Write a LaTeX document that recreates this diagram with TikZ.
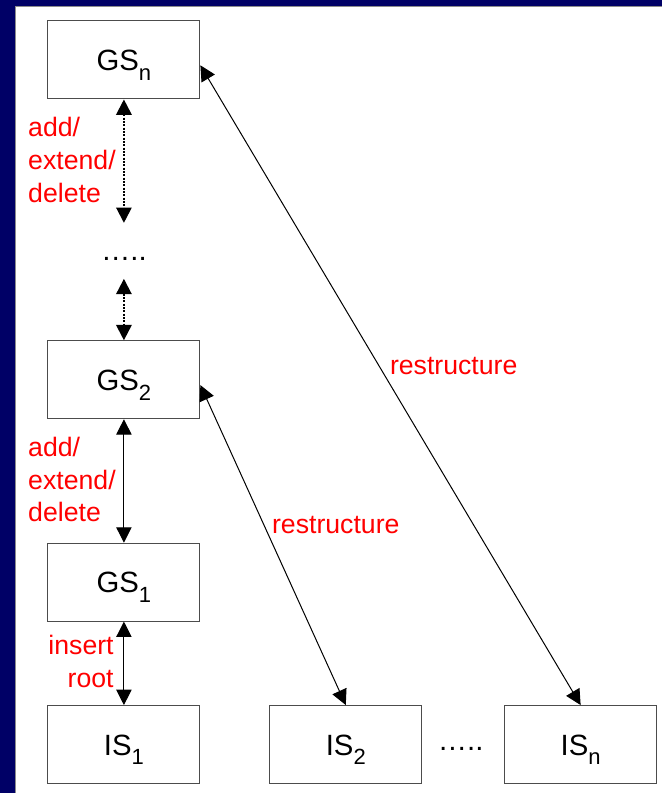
\documentclass[tikz,border=0pt]{standalone}
\usepackage{fontspec}
\setmainfont{Liberation Sans}
\usetikzlibrary{arrows.meta,positioning}

\definecolor{framenavy}{RGB}{0,0,102}
\definecolor{labelred}{RGB}{255,0,0}

% lowered index in the box labels
\newcommand{\lowidx}[1]{\raisebox{-0.33em}{\fontsize{16.5}{16.5}\selectfont #1}}

\begin{document}
\begin{tikzpicture}[
  x=0.75pt, y=-0.75pt,
  >={Triangle[width=11.5pt,length=11.5pt]},
  stage/.style={rectangle, draw=black!70, line width=0.75pt, fill=white, minimum width=114pt, minimum height=58.5pt, text height=16pt, text depth=0pt, font=\fontsize{22}{26}\selectfont},
  ell/.style={anchor=base, inner sep=0pt, font=\fontsize{22}{26}\selectfont},
  note/.style={text=labelred, inner sep=0pt, font=\fontsize{20}{24.5}\selectfont},
  link/.style={<->, line width=0.75pt},
  gap/.style={<->, line width=1.5pt, densely dotted}
]
  % frame
  \fill[framenavy] (0,0) rectangle (662,793);
  \fill[white] (16,7) rectangle (662,793);
  \draw[black!45, line width=0.75pt] (16,793) -- (16,7) -- (662,7);

  % global states
  \node[stage] (gsn) at (124,60) {GS\lowidx{n}};
  \node[ell] (gsdots) at (124,261) {…..};
  \node[stage] (gs2) at (124,380) {GS\lowidx{2}};
  \node[stage] (gs1) at (124,582.5) {GS\lowidx{1}};

  % initial states
  \node[stage] (is1) at (124,745) {IS\lowidx{1}};
  \node[stage] (is2) at (346,745) {IS\lowidx{2}};
  \node[ell] (isdots) at (461,751) {…..};
  \node[stage] (isn) at (581,745) {IS\lowidx{n}};

  \coordinate (dtop) at (124,223);
  \coordinate (dbot) at (124,279);

  % labels
  \node[note, anchor=west, align=left] (lbltop) at (28,160) {add/\\extend/\\delete};
  \node[note, anchor=west, align=left] (lblmid) at (28,480) {add/\\extend/\\delete};
  \node[note, anchor=east, align=right] (lblroot) at (114,662) {insert\\root};
  \node[note, anchor=west] (lblfar) at (390,366) {restructure};
  \node[note, anchor=west] (lblnear) at (272,525) {restructure};

  % arrows
  \draw[gap] (gsn.south) -- (dtop);
  \draw[gap] (dbot) -- (gs2.north);
  \draw[link] (gs2.south) -- (gs1.north);
  \draw[link] (gs1.south) -- (is1.north);
  \draw[link] ([yshift=-4pt]gs2.east) -- (is2.north);
  \draw[link] ([yshift=-4pt]gsn.east) -- (isn.north);
\end{tikzpicture}
\end{document}
